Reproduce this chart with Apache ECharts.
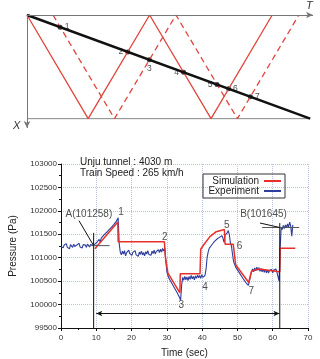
<!DOCTYPE html>
<html>
<head>
<meta charset="utf-8">
<script src="https://cdn.jsdelivr.net/npm/echarts@6/dist/echarts.min.js"></script>
<style>
  html, body { margin: 0; padding: 0; background: #fff; }
  #chart { width: 320px; height: 359px; }
</style>
</head>
<body>
<div id="chart"></div>
<script>
// --- wave diagram (top): T horizontal, X vertical (0 = tunnel entry, 1 = exit)
var waveSolid = [[0, 0], [21.6, 1], [43.3, 0], [65, 1], [86.6, 0]];
var waveDash = [[9.2, 0], [30.9, 1], [52.6, 0], [74.3, 1], [96, 0]];
var trainPath = [[0, 0], [100, 1]];
var tunnelEnd = [[0, 1], [100, 1]];
var axisT = [[0, 0], [101, 0]];
var axisX = [[0, 0], [0, 1.09]];
var crossT = [11.7, 35.6, 43.2, 55.3, 67.1, 71.2, 78.9];
var crossX = [0.117, 0.356, 0.432, 0.553, 0.671, 0.712, 0.789];
var crossNames = ['1', '2', '3', '4', '5', '6', '7'];

// --- pressure chart (bottom)
var simT = [9.6, 16.1, 16.2, 29.3, 29.6, 30.3, 33.7, 33.8, 39.4, 39.6, 40.3, 42.2, 44.0, 46.3, 46.5, 48.8, 49.5, 53.2, 54.0, 56.0, 62.0, 62.1, 66.4];
var simP = [101190, 101760, 101340, 101340, 101000, 100670, 100250, 100660, 100660, 101180, 101260, 101450, 101555, 101600, 101290, 101290, 100850, 100470, 100710, 100760, 100700, 101200, 101200];

var expStep = 0.3; // seconds between samples
var expP = [
  // 0 - 9.3 s
  101240, 101280, 101210, 101270, 101230, 101300, 101220, 101260, 101190, 101280,
  101250, 101220, 101290, 101240, 101200, 101270, 101250, 101310, 101230, 101260,
  101210, 101280, 101240, 101270, 101220, 101290, 101250, 101230, 101280, 101240,
  101260, 101250,
  // 9.6 - 16.2 s
  101290, 101250, 101330, 101300, 101390, 101340, 101420, 101380, 101470, 101430,
  101520, 101480, 101560, 101530, 101610, 101570, 101660, 101620, 101710, 101680,
  101770, 101740, 101850,
  // 16.5 - 29.4 s
  101300, 101120, 101060, 101140, 101080, 101150, 101040, 101110, 101070, 101160,
  101090, 101130, 101050, 101120, 101080, 101150, 101060, 101100, 101030, 101120,
  101070, 101140, 101060, 101110, 101040, 101130, 101080, 101150, 101070, 101110,
  101050, 101140, 101090, 101160, 101080, 101130, 101100, 101170, 101110, 101180,
  101120, 101200, 101140, 101210,
  // 29.7 - 33.9 s
  100950, 100700, 100620, 100560, 100600, 100480, 100520, 100400, 100440, 100320,
  100360, 100240, 100280, 100150, 100090,
  // 34.2 - 40.2 s
  100420, 100580, 100520, 100600, 100530, 100590, 100510, 100600, 100540, 100620,
  100550, 100600, 100530, 100610, 100560, 100630, 100570, 100620, 100560, 100640,
  100580,
  // 40.5 - 53.7 s
  100540, 100620, 100750, 101000, 101120, 101200, 101160, 101260, 101220, 101320,
  101280, 101370, 101330, 101410, 101370, 101440, 101400, 101470, 101420, 101330,
  101480, 101440, 101530, 101580, 101500, 101320, 101250, 101080, 100920, 100860,
  100800, 100830, 100730, 100760, 100660, 100690, 100590, 100620, 100520, 100550,
  100460, 100480, 100410, 100500, 100620,
  // 54.0 - 61.8 s
  100700, 100760, 100700, 100780, 100720, 100800, 100730, 100790, 100710, 100770,
  100700, 100760, 100690, 100750, 100680, 100740, 100670, 100730, 100690, 100750,
  100680, 100740, 100700, 100760, 100690, 100730, 100500,
  // 62.1 - 65.7 s
  101200, 101650, 101600, 101690, 101620, 101700, 101640, 101720, 101650, 101760,
  101680, 101460, 101700
];

var numT = [17.0, 29.4, 34.1, 40.8, 47.0, 50.6, 53.9];
var numP = [101960, 101440, 99995, 100380, 101690, 101250, 100280];

var noteT = [7.9, 57.4];
var noteP = [101930, 101930];
var noteText = ['A(101258)', 'B(101645)'];

var guideA = [[[9.25, 99500], [9.25, 101530]], [[8.6, 101258], [13.8, 101258]], [[5.1, 101790], [9.25, 101258]]];
var guideB = [[[62.0, 99500], [62.0, 101740]], [[57.0, 101645], [67.5, 101645]], [[56.4, 101740], [62.0, 101645]]];
var spanArrow = [[10, 99810], [61.9, 99810]];

function initChart() {
    var expData = expP.map(function (v, i) { return [+(i * expStep).toFixed(2), v]; });
    var simData = simT.map(function (t, i) { return [t, simP[i]]; });
    var crossPos = ['right', 'left', 'bottom', 'left', 'left', 'right', 'right'];
    var crossData = crossT.map(function (t, i) {
        return {value: [t, crossX[i]], name: crossNames[i],
            label: {position: crossPos[i], distance: 2}};
    });

    var guideSeries = [];
    guideA.concat(guideB).forEach(function (seg, k) {
        guideSeries.push({
            type: 'line', xAxisIndex: 1, yAxisIndex: 1, silent: true,
            data: seg, symbol: 'none',
            lineStyle: {color: (k % 3 == 1) ? '#555' : '#111', width: 1}
        });
    });

    var option = {
        animation: false,
        textStyle: {fontFamily: 'Liberation Sans'},
        title: {
            text: 'Unju tunnel : 4030 m\nTrain Speed : 265 km/h',
            left: 80, top: 157, padding: 0,
            textStyle: {fontSize: 10, fontWeight: 'normal', color: '#222', lineHeight: 11}
        },
        legend: {
            orient: 'vertical', left: 203, top: 174,
            padding: [2, 4, 2, 4], itemGap: 0,
            itemWidth: 17, itemHeight: 2, align: 'right',
            borderColor: '#333', borderWidth: 1,
            textStyle: {fontSize: 10, color: '#222', lineHeight: 10, width: 52},
            data: [{name: 'Simulation', icon: 'rect'}, {name: 'Experiment', icon: 'rect'}]
        },
        graphic: [
            {type: 'text', left: 306, top: 0, style: {text: 'T', fontSize: 11, fontStyle: 'italic', fill: '#333'}},
            {type: 'text', left: 13, top: 120, style: {text: 'X', fontSize: 11, fontStyle: 'italic', fill: '#333'}}
        ],
        grid: [
            {left: 27, top: 15, width: 286, height: 113},
            {left: 53, top: 164, width: 255, height: 172}
        ],
        xAxis: [
            {
                gridIndex: 0, type: 'value', min: 0, max: 101, show: false
            },
            {
                gridIndex: 1, type: 'value', min: 0, max: 70, interval: 10,
                name: 'Time (sec)', nameLocation: 'middle', nameGap: 20,
                nameTextStyle: {fontSize: 10, color: '#222'},
                axisLine: {show: true, onZero: false, lineStyle: {color: '#111', width: 1}},
                axisTick: {show: true, length: 3, lineStyle: {color: '#111'}},
                minorTick: {show: true, splitNumber: 2, length: 2, lineStyle: {color: '#111'}},
                axisLabel: {fontSize: 8, color: '#333', margin: 6},
                splitLine: {show: true, lineStyle: {color: '#b9c3e0', type: 'dotted'}}
            }
        ],
        yAxis: [
            {
                gridIndex: 0, type: 'value', min: 0, max: 1.09, inverse: true, show: false
            },
            {
                gridIndex: 1, type: 'value', min: 99500, max: 103000, interval: 500,
                name: 'Pressure (Pa)', nameLocation: 'middle', nameGap: 43,
                nameTextStyle: {fontSize: 10, color: '#222'},
                axisLine: {show: true, onZero: false, lineStyle: {color: '#111', width: 1}},
                axisTick: {show: true, length: 3, lineStyle: {color: '#111'}},
                minorTick: {show: true, splitNumber: 2, length: 2, lineStyle: {color: '#111'}},
                axisLabel: {fontSize: 8, color: '#333', margin: 4, formatter: function (v) { return String(v); }},
                splitLine: {show: true, lineStyle: {color: '#b9c3e0', type: 'dotted'}}
            }
        ],
        series: [
            {
                type: 'line', xAxisIndex: 0, yAxisIndex: 0, silent: true,
                data: tunnelEnd, symbol: 'none', lineStyle: {color: '#888', width: 1},
                markLine: {
                    silent: true, label: {show: false},
                    symbol: ['none', 'arrow'], symbolSize: [5, 7],
                    lineStyle: {color: '#777', width: 1, type: 'solid'},
                    data: [
                        [{coord: axisT[0]}, {coord: axisT[1]}],
                        [{coord: axisX[0]}, {coord: axisX[1]}]
                    ]
                }
            },
            {
                type: 'line', xAxisIndex: 0, yAxisIndex: 0, silent: true,
                data: waveSolid, symbol: 'none', lineStyle: {color: '#e0453c', width: 1.3}
            },
            {
                type: 'line', xAxisIndex: 0, yAxisIndex: 0, silent: true,
                data: waveDash, symbol: 'none', lineStyle: {color: '#e0453c', width: 1.3, type: [6, 4]}
            },
            {
                type: 'line', xAxisIndex: 0, yAxisIndex: 0, silent: true,
                data: trainPath, symbol: 'none', lineStyle: {color: '#111', width: 2.5}
            },
            {
                type: 'scatter', xAxisIndex: 0, yAxisIndex: 0, silent: true,
                data: crossData, symbolSize: 5, itemStyle: {color: '#111'},
                label: {show: true, formatter: '{b}', fontSize: 8.5, color: '#222'}
            },
            {
                name: 'Experiment', type: 'line', xAxisIndex: 1, yAxisIndex: 1,
                data: expData, symbol: 'none', lineStyle: {color: '#2d3e9e', width: 1.1},
                itemStyle: {color: '#2d3e9e'}
            },
            {
                name: 'Simulation', type: 'line', xAxisIndex: 1, yAxisIndex: 1,
                data: simData, symbol: 'none', lineStyle: {color: '#e8302a', width: 1.5},
                itemStyle: {color: '#e8302a'},
                markLine: {
                    silent: true, label: {show: false},
                    symbol: ['arrow', 'arrow'], symbolSize: [4, 6],
                    lineStyle: {color: '#111', width: 1, type: 'solid'},
                    data: [[{coord: spanArrow[0]}, {coord: spanArrow[1]}]]
                }
            },
            {
                type: 'scatter', xAxisIndex: 1, yAxisIndex: 1, silent: true,
                data: numT.map(function (t, i) { return {value: [t, numP[i]], name: String(i + 1)}; }),
                symbolSize: 0,
                label: {show: true, position: 'inside', formatter: '{b}', fontSize: 10, color: '#222'}
            },
            {
                type: 'scatter', xAxisIndex: 1, yAxisIndex: 1, silent: true,
                data: noteT.map(function (t, i) { return {value: [t, noteP[i]], name: noteText[i]}; }),
                symbolSize: 0,
                label: {show: true, position: 'inside', formatter: '{b}', fontSize: 10, color: '#222'}
            }
        ].concat(guideSeries)
    };
    var chart = echarts.init(document.getElementById('chart'));
    chart.setOption(option);
}

initChart();
</script>
</body>
</html>
